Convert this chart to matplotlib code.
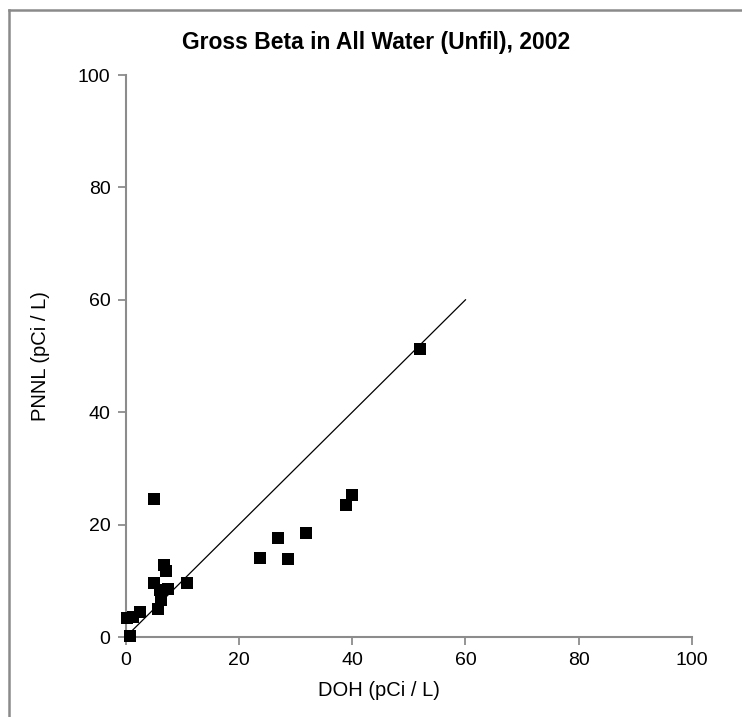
import matplotlib
matplotlib.use('Agg')
import matplotlib.pyplot as plt
from matplotlib.lines import Line2D

plt.rcParams['font.family'] = ['Liberation Sans', 'DejaVu Sans']

# values
doh = [5.0, 40.0, 38.9, 26.9, 31.8, 23.7, 28.7, 51.9,
       6.8, 7.1, 10.9, 5.0, 6.0, 7.5, 6.3, 5.7,
       0.8, 0.2, 1.3, 2.5]
pnnl = [24.5, 25.3, 23.4, 17.7, 18.5, 14.1, 13.8, 51.2,
        12.8, 11.8, 9.6, 9.6, 8.4, 8.5, 6.6, 4.9,
        0.2, 3.3, 3.6, 4.5]
line_x = [0, 60]
line_y = [0, 60]
ticks = [0, 20, 40, 60, 80, 100]

title = 'Gross Beta in All Water (Unfil), 2002'
xlabel = 'DOH (pCi / L)'
ylabel = 'PNNL (pCi / L)'

fig = plt.figure(figsize=(7.42, 7.17), dpi=100)
W, H = 742, 717
ax = fig.add_axes([125.7 / W, 80 / H, (692 - 125.7) / W, (637 - 75) / H])

ax.plot(line_x, line_y, color='black', lw=0.9)
ax.scatter(doh, pnnl, marker='s', s=80, color='black', linewidths=0,
           clip_on=False, zorder=3)

ax.set_xlim(0, 100)
ax.set_ylim(0, 100)
ax.set_xticks(ticks)
ax.set_yticks(ticks)
for side in ['top', 'right']:
    ax.spines[side].set_visible(False)
for side in ['left', 'bottom']:
    ax.spines[side].set_color('#8c8c8c')
    ax.spines[side].set_linewidth(1.5)
ax.tick_params(direction='out', length=6, width=1.3, color='#8c8c8c',
               labelsize=14, pad=5)

fig.text(376 / W, 1 - 43 / H, title, ha='center', va='center',
         fontsize=16.5, fontweight='bold')
fig.text(379 / W, 1 - 690 / H, xlabel, ha='center', va='center', fontsize=14.5)
fig.text(40 / W, 1 - 356 / H, ylabel, ha='center', va='center',
         rotation=90, fontsize=14.5)

# window frame on top and left edges
fig.add_artist(Line2D([8.5 / W, 1], [1 - 9.5 / H, 1 - 9.5 / H],
                      transform=fig.transFigure, color='#8a8a8a', lw=1.8))
fig.add_artist(Line2D([8.5 / W, 8.5 / W], [0, 1 - 9.5 / H],
                      transform=fig.transFigure, color='#8a8a8a', lw=1.8))

fig.savefig('out.png', dpi=100)
